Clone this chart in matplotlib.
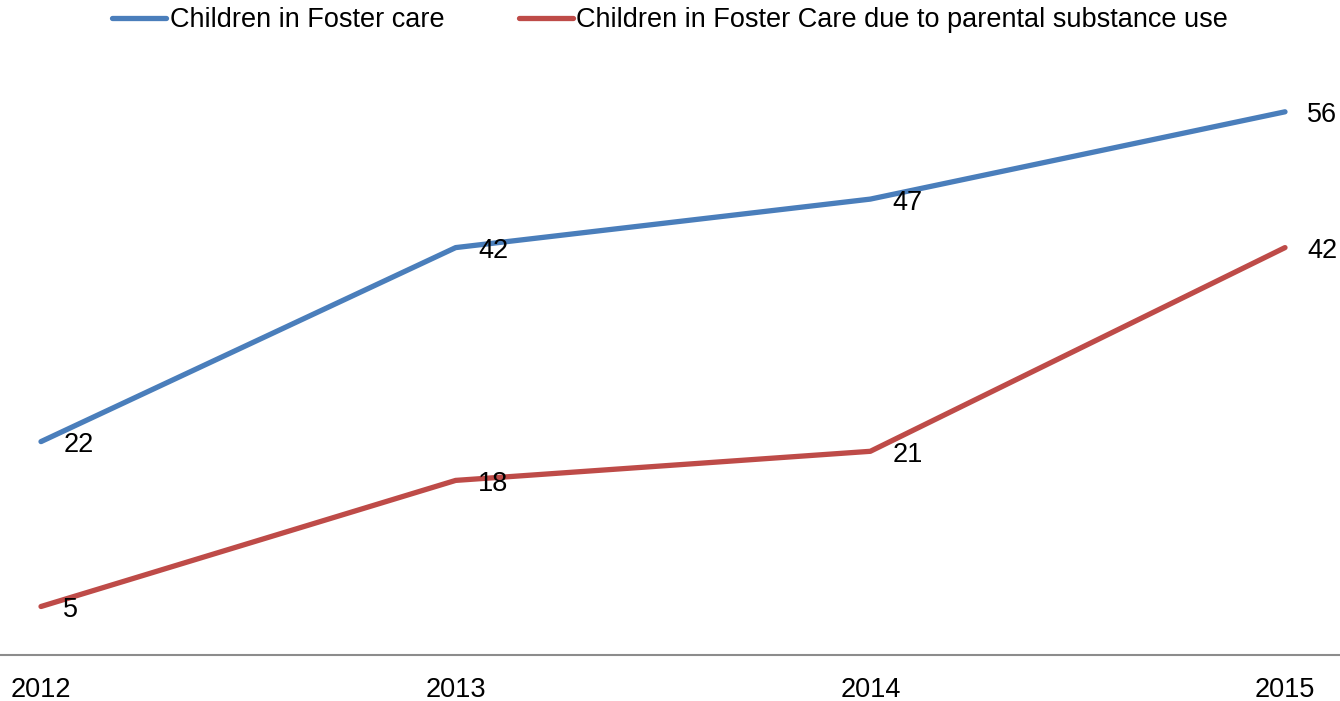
import matplotlib.pyplot as plt
from matplotlib.lines import Line2D

plt.rcParams['font.family'] = ['Liberation Sans', 'DejaVu Sans']

years = [2012, 2013, 2014, 2015]
foster = [22, 42, 47, 56]
substance = [5, 18, 21, 42]
names = ['Children in Foster care', 'Children in Foster Care due to parental substance use']
colors = ['#4A7EBB', '#BE4B48']

fig = plt.figure(figsize=(13.4, 7.01), dpi=100)
ax = fig.add_axes([0, 46 / 701, 1, 582 / 701])

step = (1285 - 41) / 3
ax.set_xlim(2012 - 41 / step, 2015 + 55 / step)
ax.set_ylim(0, 60)

for vals, c in zip([foster, substance], colors):
    ax.plot(years, vals, color=c, lw=3.8, solid_capstyle='round')
    for x, y in zip(years, vals):
        ax.annotate(str(y), (x, y), xytext=(16, -2.5), textcoords='offset points',
                    ha='left', va='center', fontsize=19.5)

for s in ['top', 'left', 'right']:
    ax.spines[s].set_visible(False)
ax.spines['bottom'].set_color('#8c8c8c')
ax.spines['bottom'].set_linewidth(1.5)
ax.set_yticks([])
ax.set_xticks(years)
ax.set_xticklabels([str(y) for y in years], fontsize=19.5)
ax.tick_params(axis='x', length=0, pad=16)

handles = [Line2D([], [], color=c, lw=3.8, solid_capstyle='round') for c in colors]
fig.legend(handles, names, loc='center', bbox_to_anchor=(0.5, 1 - 20 / 701),
           ncol=2, frameon=False, fontsize=19.5, handlelength=2.0,
           handletextpad=0.12, columnspacing=2.75)

fig.savefig('out.png', dpi=100)
